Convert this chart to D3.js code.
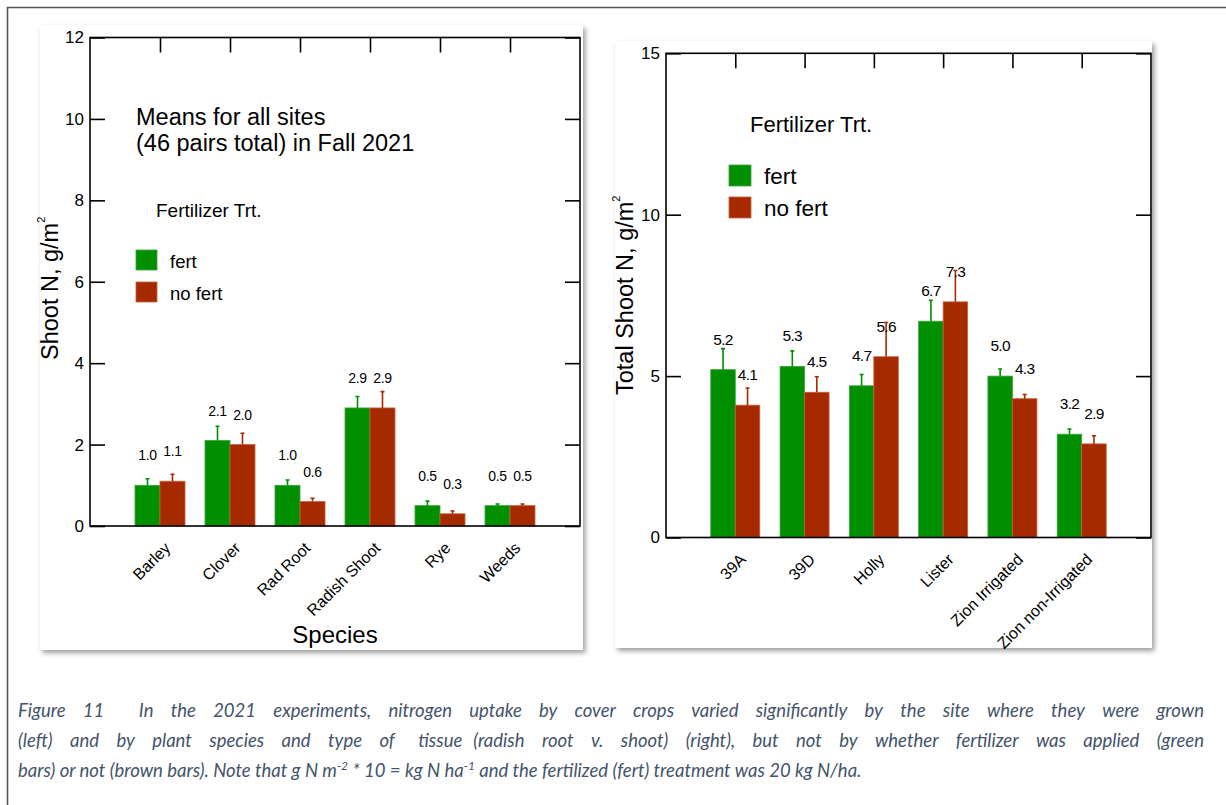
<!DOCTYPE html>
<html>
<head>
<meta charset="utf-8">
<script src="https://cdn.jsdelivr.net/npm/d3@7"></script>
<style>
  html, body { margin: 0; padding: 0; background: #fff; }
  svg { display: block; }
  text { font-family: "Liberation Sans", Arial, sans-serif; fill: #000; }
  .caption { font-family: Lato, "Open Sans", sans-serif; font-style: italic; fill: #44546a; font-size: 18.5px; }
</style>
</head>
<body>
<svg id="fig" width="1226" height="805"></svg>
<script>
// ---- Shoot N by species (means for all sites), g N / m^2 ----
const speciesNames   = ["Barley", "Clover", "Rad Root", "Radish Shoot", "Rye", "Weeds"];
const speciesFert    = [1.0, 2.1, 1.0, 2.9, 0.5, 0.5];
const speciesNoFert  = [1.1, 2.0, 0.6, 2.9, 0.3, 0.5];
const speciesFertSE  = [0.16, 0.35, 0.13, 0.28, 0.11, 0.04];
const speciesNoFertSE = [0.17, 0.28, 0.08, 0.40, 0.07, 0.04];
const speciesYTicks  = [0, 2, 4, 6, 8, 10, 12];

// ---- Total shoot N by site, g N / m^2 ----
const siteNames   = ["39A", "39D", "Holly", "Lister", "Zion Irrigated", "Zion non-Irrigated"];
const siteFert    = [5.2, 5.3, 4.7, 6.7, 5.0, 3.2];
const siteNoFert  = [4.1, 4.5, 5.6, 7.3, 4.3, 2.9];
const siteFertSE  = [0.65, 0.48, 0.35, 0.65, 0.22, 0.16];
const siteNoFertSE = [0.53, 0.48, 1.06, 0.97, 0.13, 0.25];
const siteYTicks  = [0, 5, 10, 15];

const treatments = ["fert", "no fert"];

const GREEN = "#008f00", GREEN_EDGE = "#3aa63a";
const BROWN = "#a62a00", BROWN_EDGE = "#c8603e";
const FONT = "'Liberation Sans', Arial, sans-serif";

const svg = d3.select("#fig");

// soft drop shadow behind each chart panel
const defs = svg.append("defs");
defs.append("filter").attr("id", "shadow")
    .attr("x", "-5%").attr("y", "-5%").attr("width", "112%").attr("height", "112%")
  .append("feDropShadow")
    .attr("dx", 2.5).attr("dy", 3).attr("stdDeviation", 2.5)
    .attr("flood-color", "#000").attr("flood-opacity", 0.38);

// page frame (top and left rule)
svg.append("path")
  .attr("d", "M7.5,805V7.5H1226")
  .attr("fill", "none").attr("stroke", "#555").attr("stroke-width", 1.6);

function drawChart(o) {
  const g = svg.append("g");
  const P = o.plot;

  g.append("rect")
    .attr("x", o.panel.x).attr("y", o.panel.y)
    .attr("width", o.panel.w).attr("height", o.panel.h)
    .attr("fill", "#fff").attr("filter", "url(#shadow)");

  const x = d3.scalePoint().domain(o.cats).range([P.left, P.right]).padding(1);
  const y = d3.scaleLinear().domain([0, o.yMax]).range([P.bottom, P.top]);

  const rows = o.cats.map((c, i) => ({ cat: c, vals: [o.fert[i], o.nofert[i]], se: [o.fertSE[i], o.nofertSE[i]] }));
  const series = [
    { k: 0, fill: GREEN, edge: GREEN_EDGE, dx: -o.barW },
    { k: 1, fill: BROWN, edge: BROWN_EDGE, dx: 0 }
  ];

  series.forEach(s => {
    const sg = g.append("g");
    sg.selectAll("rect").data(rows).join("rect")
      .attr("x", d => x(d.cat) + s.dx)
      .attr("y", d => y(d.vals[s.k]))
      .attr("width", o.barW)
      .attr("height", d => y(0) - y(d.vals[s.k]))
      .attr("fill", s.fill)
      .attr("stroke", s.edge).attr("stroke-width", 0.8);

    // upper error bars
    const eg = sg.append("g").attr("stroke", s.fill).attr("stroke-width", 1.6).attr("fill", "none");
    eg.selectAll("path").data(rows).join("path")
      .attr("d", d => {
        const cx = x(d.cat) + s.dx + o.barW / 2;
        const y0 = y(d.vals[s.k]), y1 = y(d.vals[s.k] + d.se[s.k]);
        return `M${cx},${y0}V${y1}M${cx - 2},${y1}H${cx + 2}`;
      });

    // value labels
    sg.selectAll("text").data(rows).join("text")
      .attr("x", d => x(d.cat) + s.dx + o.barW / 2)
      .attr("y", d => y(d.vals[s.k]) - 25)
      .attr("text-anchor", "middle")
      .attr("font-size", o.valueFont)
      .attr("letter-spacing", o.valueSpacing)
      .text(d => d.vals[s.k].toFixed(1));
  });

  // plot frame
  g.append("rect")
    .attr("x", P.left).attr("y", P.top)
    .attr("width", P.right - P.left).attr("height", P.bottom - P.top)
    .attr("fill", "none").attr("stroke", "#000").attr("stroke-width", 1.6);

  const styleAxis = a => {
    a.select(".domain").remove();
    a.attr("font-family", FONT).attr("font-size", 17);
    a.selectAll("line").attr("stroke-width", 1.6);
    a.selectAll("text").attr("fill", "#111");
  };

  g.append("g").attr("transform", `translate(${P.left},0)`)
    .call(d3.axisLeft(y).tickValues(o.yTicks).tickSize(-15).tickSizeOuter(0).tickPadding(6).tickFormat(d3.format("d")))
    .call(styleAxis);

  g.append("g").attr("transform", `translate(${P.right},0)`)
    .call(d3.axisRight(y).tickValues(o.yTicks).tickSize(-15).tickSizeOuter(0).tickFormat(() => ""))
    .call(styleAxis);

  g.append("g").attr("transform", `translate(0,${P.top})`)
    .call(d3.axisTop(x).tickSize(-15).tickSizeOuter(0).tickFormat(() => ""))
    .call(styleAxis);

  g.append("g").attr("transform", `translate(0,${P.bottom})`)
    .call(d3.axisBottom(x).tickSize(0).tickSizeOuter(0))
    .call(styleAxis)
    .call(a => a.selectAll("text")
      .attr("font-size", 16)
      .attr("x", 0).attr("y", 0).attr("dy", 0)
      .attr("text-anchor", "end")
      .attr("transform", "translate(11,23) rotate(-45)"));

  // y-axis title with superscript
  const yt = g.append("text")
    .attr("transform", `translate(${o.yTitle.x},${o.yTitle.y}) rotate(-90)`)
    .attr("font-size", 23.5);
  yt.append("tspan").text(o.yTitle.text);
  yt.append("tspan").attr("font-size", 11).attr("dy", -13).text("2");

  // legend
  const L = o.legend;
  g.append("text").attr("x", L.titleX).attr("y", L.titleY)
    .attr("font-size", L.titleFont).text("Fertilizer Trt.");
  const li = g.selectAll(".leg").data(treatments).join("g").attr("class", "leg");
  li.append("rect")
    .attr("x", L.boxX).attr("y", (d, i) => L.boxY + i * L.step)
    .attr("width", L.box).attr("height", L.box - 1)
    .attr("fill", (d, i) => i ? BROWN : GREEN)
    .attr("stroke", (d, i) => i ? BROWN_EDGE : GREEN_EDGE).attr("stroke-width", 0.8);
  li.append("text")
    .attr("x", L.textX).attr("y", (d, i) => L.textY + i * L.step)
    .attr("font-size", L.font).text(d => d);

  return g;
}

// left chart: species
const left = drawChart({
  panel: { x: 40, y: 25, w: 543, h: 625 },
  plot: { left: 90, right: 580, top: 37.5, bottom: 526 },
  cats: speciesNames, fert: speciesFert, nofert: speciesNoFert,
  fertSE: speciesFertSE, nofertSE: speciesNoFertSE,
  yMax: 12, yTicks: speciesYTicks, barW: 25,
  valueFont: 14, valueSpacing: -0.4,
  yTitle: { x: 58, y: 360, text: "Shoot N, g/m" },
  legend: { titleX: 156, titleY: 217, titleFont: 19, boxX: 136, boxY: 250, box: 21, step: 32, textX: 170, textY: 268, font: 18.5 }
});
left.append("text").attr("x", 136).attr("y", 125).attr("font-size", 23.5).text("Means for all sites");
left.append("text").attr("x", 136).attr("y", 151).attr("font-size", 23.5).text("(46 pairs total) in Fall 2021");
left.append("text").attr("x", 335).attr("y", 643).attr("text-anchor", "middle").attr("font-size", 24).text("Species");

// right chart: sites
drawChart({
  panel: { x: 615, y: 41, w: 537, h: 607 },
  plot: { left: 666, right: 1151, top: 53.3, bottom: 537.5 },
  cats: siteNames, fert: siteFert, nofert: siteNoFert,
  fertSE: siteFertSE, nofertSE: siteNoFertSE,
  yMax: 15, yTicks: siteYTicks, barW: 24.5,
  valueFont: 15.5, valueSpacing: -0.7,
  yTitle: { x: 633, y: 395, text: "Total Shoot N, g/m" },
  legend: { titleX: 750, titleY: 132, titleFont: 22, boxX: 729, boxY: 165, box: 22, step: 32, textX: 764, textY: 184, font: 22.5 }
});

// caption: first two lines justified to the text column, last line left-aligned
const CAP_X = 18, CAP_W = 1186;
const cap = svg.append("g");

function justifiedLine(str, yPos) {
  const t = cap.append("text").attr("class", "caption").attr("y", yPos);
  const words = str.split(" ");
  const spans = words.map(w => t.append("tspan").text(w));
  const widths = spans.map(s => s.node().getComputedTextLength());
  const gap = (CAP_W - d3.sum(widths)) / (words.length - 1);
  let cx = CAP_X;
  spans.forEach((s, i) => { s.attr("x", cx); cx += widths[i] + gap; });
}
justifiedLine("Figure 11  In the 2021 experiments, nitrogen uptake by cover crops varied significantly by the site where they were grown", 717);
justifiedLine("(left) and by plant species and type of tissue (radish root v. shoot) (right), but not by whether fertilizer was applied (green", 747);

const c3 = cap.append("text").attr("class", "caption").attr("x", CAP_X).attr("y", 777).style("white-space", "pre");
c3.append("tspan").text("bars) or not (brown bars). Note that g N m");
c3.append("tspan").attr("font-size", 12).attr("dy", -7).text("-2");
c3.append("tspan").attr("dy", 7).text(" * 10 = kg N ha");
c3.append("tspan").attr("font-size", 12).attr("dy", -7).text("-1");
c3.append("tspan").attr("dy", 7).text(" and the fertilized (fert) treatment was 20 kg N/ha.");
</script>
</body>
</html>
